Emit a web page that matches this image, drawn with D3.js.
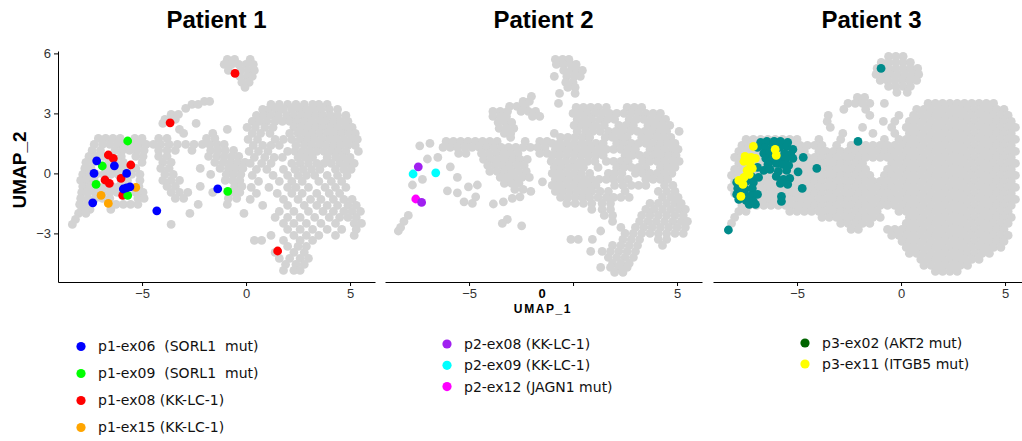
<!DOCTYPE html>
<html>
<head>
<meta charset="utf-8">
<script src="https://cdnjs.cloudflare.com/ajax/libs/d3/7.8.5/d3.min.js"></script>
<style>
body { margin: 0; background: #fff; }
</style>
</head>
<body>
<div id="chart-area"></div>
<script>
// ---- data (UMAP coordinates) ----
var panelTitles = ["Patient 1", "Patient 2", "Patient 3"];
var xTicks = [-5, 0, 5];
var yTicks = [-3, 0, 3, 6];

// grey background cells, stored as rows: [y, [x, x, ...]]
var grey1Rows = [
	[5.7, [-0.9, -0.55, 0.2]],
	[5.45, [-1.05, -0.7, -0.35, 0.0, 0.35]],
	[5.15, [-0.85, -0.25, 0.1, 0.4]],
	[4.85, [-0.3, 0.05, 0.3]],
	[4.55, [-0.2, 0.15]],
	[4.3, [-0.05]],
	[3.6, [-2.0, -1.75]],
	[3.45, [-2.6, -2.3, 1.2, 1.6, 2.0, 2.4, 2.8, 3.2, 3.5, 3.9]],
	[3.25, [-2.9]],
	[3.2, [0.8, 1.1, 1.45, 1.8, 2.2, 2.55, 2.9, 3.25, 3.6, 4.0, 4.4]],
	[2.95, [-3.6, -3.25]],
	[2.9, [0.5, 0.85, 1.2, 1.55, 1.95, 2.3, 2.65, 3.0, 3.35, 3.7, 4.05, 4.4, 4.8]],
	[2.7, [-3.9, -3.4]],
	[2.6, [0.3, 0.65, 1.0, 1.4, 1.75, 2.1, 2.45, 2.8, 3.15, 3.5, 3.85, 4.2, 4.55, 4.9]],
	[2.5, [-4.0, -2.4]],
	[2.3, [0.05, 0.45, 0.9, 1.3, 2.3, 2.65, 3.0, 3.35, 3.7, 4.05, 4.4, 4.75, 5.1]],
	[2.2, [-3.2, -0.9]],
	[2.0, [-3.0, -1.6, 0.3, 0.7, 1.15, 2.1, 2.5, 2.85, 3.2, 3.55, 3.9, 4.25, 4.6, 4.95, 5.25]],
	[1.75, [-7.1, -6.75, -6.4, -6.05, -5.35, -5.0, -4.2, -3.8, -1.9, -1.5]],
	[1.7, [0.1, 0.55, 1.4, 1.8, 2.2, 2.6, 2.95, 3.3, 3.65, 4.0, 4.35, 4.7, 5.05, 5.35]],
	[1.45, [-7.3, -6.9, -6.55, -6.2, -5.85, -5.5, -5.15, -4.8, -4.45, -4.1, -3.7, -3.3, -2.9, -2.5, -2.1, -1.75, -1.4, -1.05]],
	[1.4, [0.35, 0.8, 1.2, 1.6, 2.4, 2.8, 3.15, 3.5, 3.85, 4.2, 4.55, 4.9, 5.25]],
	[1.15, [-7.4, -7.0, -6.3, -5.95, -5.6, -5.25, -4.9, -4.2, -3.8, -3.4, -2.6, -1.7, -1.35, -1.0, -0.6]],
	[1.1, [0.15, 0.6, 1.05, 2.0, 2.35, 2.7, 3.05, 3.4, 3.75, 4.1, 4.45, 4.8, 5.4]],
	[0.85, [-7.55, -7.2, -6.85, -6.0, -5.3, -4.95, -4.2, -3.8, -1.8, -1.4, -1.05, -0.7, -0.35]],
	[0.8, [0.4, 0.9, 1.35, 1.75, 2.5, 2.85, 3.2, 3.9, 4.3, 4.65, 5.0]],
	[0.55, [-7.7, -7.35, -6.6, -6.3, -5.9, -5.0, -4.0, -3.6, -1.5, -1.1, -0.75, -0.4, -0.05]],
	[0.5, [0.2, 0.75, 1.2, 2.2, 2.6, 3.0, 3.4, 3.75, 4.1, 4.5, 4.85, 5.2]],
	[0.25, [-7.75, -7.45, -6.7, -6.35, -6.05, -5.75, -5.3, -4.1, -3.7, -2.2, -1.25, -0.85, -0.5, -0.15]],
	[0.2, [0.5, 1.0, 1.8, 2.35, 2.75, 3.15, 3.55, 4.3, 4.7, 5.05]],
	[-0.05, [-7.85, -7.5, -7.2, -6.85, -6.5, -6.15, -5.5, -5.1, -3.9, -3.5, -1.7, -0.95, -0.6, -0.25]],
	[-0.1, [0.3, 1.3, 2.0, 2.5, 2.9, 3.3, 3.9, 4.4, 4.85]],
	[-0.35, [-7.95, -7.65, -7.3, -6.0, -5.7, -5.1, -4.0, -3.6, -3.2, -1.0, -0.65, -0.3]],
	[-0.4, [0.6, 1.6, 2.2, 2.7, 3.5, 4.1, 4.6]],
	[-0.65, [-7.85, -7.5, -7.15, -6.8, -6.45, -6.1, -5.15, -3.8, -3.4, -2.2, -0.55, -0.2]],
	[-0.7, [0.25, 1.1, 2.0, 2.4, 3.0, 3.8, 4.3, 4.8]],
	[-0.95, [-7.9, -7.6, -7.25, -6.9, -6.55, -6.2, -5.3, -4.95, -3.6, -3.2, -2.8, -1.6, -0.6, -0.3]],
	[-1.0, [0.5, 1.5, 2.2, 2.7, 3.4, 4.0, 4.5]],
	[-1.25, [-7.95, -7.6, -7.25, -6.9, -6.55, -5.2, -4.9, -3.4, -3.0, -0.85, -0.45]],
	[-1.3, [0.2, 1.8, 2.5, 3.1, 3.6, 4.2, 4.7, 5.1]],
	[-1.55, [-8.0, -7.65, -6.25, -5.9, -5.55, -5.2, -2.3, -0.9]],
	[-1.6, [0.8, 2.0, 2.8, 3.4, 3.9, 4.4, 4.9, 5.3]],
	[-1.8, [-7.9, -7.5, -6.5]],
	[-1.9, [1.6, 2.3, 3.0, 3.7, 4.2, 4.7, 5.1, 5.5]],
	[-2.0, [-8.05, -7.7, -2.7, -0.1]],
	[-2.2, [1.4, 2.0, 2.6, 3.3, 4.0, 4.5, 4.9, 5.3]],
	[-2.3, [-8.2]],
	[-2.5, [1.8, 2.3, 2.9, 3.6, 4.3, 5.2, 5.55]],
	[-2.55, [-8.35, -3.6]],
	[-2.8, [2.0, 2.6, 3.2, 3.9, 4.6, 5.3]],
	[-3.1, [1.2, 2.3, 2.9, 3.5, 4.3, 5.2]],
	[-3.35, [0.4, 0.75, 1.8, 2.6, 3.2]],
	[-3.65, [2.0, 2.5, 2.9]],
	[-3.95, [1.4, 2.3, 2.8]],
	[-4.25, [1.6, 2.1, 2.6, 3.0]],
	[-4.55, [1.9, 2.4, 2.8]],
	[-4.85, [1.8, 2.3, 2.6]]
];

var grey2Rows = [
	[5.7, [-0.85, -0.5, -0.2]],
	[5.45, [-0.8, -0.45, -0.1, 0.15]],
	[5.15, [-0.45, -0.1, 0.2, 0.45]],
	[4.85, [-0.9, -0.3, 0.05, 0.35]],
	[4.55, [-0.35, 0.0]],
	[4.3, [-0.25, 0.1]],
	[4.0, [-0.65, 0.1]],
	[3.85, [-2.0]],
	[3.6, [-2.4, -2.1]],
	[3.5, [-0.7]],
	[3.35, [-3.05, -2.7, -2.3]],
	[3.3, [0.15, 0.5, 0.85, 1.2, 1.6, 2.6, 2.95, 3.3]],
	[3.1, [-3.85, -3.5, -3.15, -2.5, -2.15, -1.8]],
	[3.0, [0.0, 0.35, 0.7, 1.05, 1.4, 1.75, 2.1, 2.45, 2.8, 3.15, 3.5, 3.85, 4.2]],
	[2.85, [-3.85, -3.5, -3.2, -1.95, -1.6]],
	[2.7, [0.2, 0.55, 0.9, 1.3, 1.65, 2.0, 2.7, 3.05, 3.4, 3.75, 4.1, 4.45]],
	[2.55, [-3.6, -3.25, -2.95]],
	[2.4, [0.05, 0.4, 0.75, 1.1, 1.5, 2.2, 2.55, 2.9, 3.6, 3.95, 4.3, 4.65]],
	[2.25, [-3.55, -3.2, -2.85]],
	[2.1, [0.2, 0.6, 0.95, 1.3, 1.7, 2.05, 2.4, 2.75, 3.1, 3.45, 3.8, 4.15, 4.5, 5.1]],
	[2.0, [-3.3, -3.0, -0.9]],
	[1.8, [-3.0, -0.6, -0.25, 0.1, 0.45, 0.8, 1.55, 1.9, 2.25, 2.6, 3.3, 3.65, 4.0, 4.35, 4.7]],
	[1.6, [-6.1, -5.75, -5.4, -5.05, -4.7, -4.35, -4.0, -3.65, -2.3, -1.6, -1.25]],
	[1.5, [-6.88, -1.0, -0.65, -0.3, 0.05, 0.4, 0.75, 1.1, 1.45, 2.1, 2.45, 2.8, 3.15, 3.5, 3.85, 4.2, 4.55, 4.9]],
	[1.38, [-7.37]],
	[1.3, [-6.25, -5.9, -5.55, -5.2, -4.85, -4.5, -4.15, -3.8, -3.45, -3.1, -2.75, -2.4, -2.05, -1.7, -1.35]],
	[1.2, [-0.85, -0.5, -0.15, 0.2, 0.55, 0.9, 1.25, 1.6, 1.95, 2.3, 2.65, 3.0, 3.7, 4.05, 4.4, 4.75, 5.05]],
	[1.0, [-5.5, -5.15, -4.4, -4.05, -3.7, -3.35, -3.0, -2.65, -1.6, -1.25]],
	[0.9, [-1.0, -0.65, -0.3, 0.05, 0.4, 0.75, 1.1, 1.45, 2.5, 2.85, 3.2, 3.55, 3.9, 4.25, 4.6, 4.95]],
	[0.8, [-6.5]],
	[0.72, [-7.0]],
	[0.7, [-4.3, -3.95, -3.6, -3.25, -2.9, -2.55, -2.2]],
	[0.6, [-1.05, -0.7, -0.35, 0.0, 0.35, 0.7, 1.05, 1.6, 1.95, 2.3, 2.65, 3.35, 3.7, 4.05, 4.4, 4.75, 5.1]],
	[0.4, [-4.1, -3.75, -3.4, -3.05, -2.7, -2.35]],
	[0.33, [-5.9]],
	[0.3, [-0.9, -0.55, -0.2, 0.15, 0.5, 1.2, 2.1, 2.45, 2.8, 3.15, 3.5, 4.2, 4.55, 4.9]],
	[0.1, [-4.0, -3.65, -3.3, -2.95, -2.6, -2.25]],
	[0.0, [-1.0, -0.65, -0.3, 0.05, 0.4, 0.8, 1.7, 2.0, 2.35, 3.0, 3.35, 3.7, 4.05, 4.4, 4.75]],
	[-0.2, [-5.56, -3.5, -3.15, -2.8, -2.45, -2.1]],
	[-0.3, [-7.24, -0.85, -0.5, -0.15, 0.2, 0.55, 0.9, 1.25, 1.6, 1.95, 2.3, 2.65, 3.5, 3.85, 4.2, 4.55]],
	[-0.42, [-1.47]],
	[-0.5, [-3.3, -2.95, -2.6]],
	[-0.58, [-7.72, -4.6]],
	[-0.6, [-1.0, -0.65, -0.3, 0.05, 0.4, 0.75, 1.1, 2.0, 2.4, 2.8, 3.15, 3.5, 4.4, 4.8]],
	[-0.67, [-5.03]],
	[-0.8, [-2.8, -2.4]],
	[-0.87, [-6.04]],
	[-0.9, [-2.03, -0.85, -0.5, -0.15, 0.2, 0.55, 0.9, 1.3, 1.7, 2.5, 4.1, 4.5, 4.9]],
	[-0.97, [-5.56]],
	[-1.17, [-4.68, -2.55]],
	[-1.2, [-0.6, -0.25, 0.1, 0.45, 0.8, 1.2, 1.6, 1.95, 2.3, 2.7, 4.3, 4.7, 5.05]],
	[-1.25, [-2.92]],
	[-1.42, [-5.24, -3.35]],
	[-1.5, [-4.84, -0.3, 0.1, 0.5, 0.9, 1.4, 1.8, 3.7, 4.1, 4.5, 4.9, 5.2]],
	[-1.53, [-3.83]],
	[-1.8, [0.9, 1.4, 1.8, 3.5, 3.9, 4.3, 4.7, 5.1, 5.4]],
	[-2.1, [-7.92, 1.5, 1.9, 3.3, 3.7, 4.1, 4.5, 4.9, 5.3]],
	[-2.3, [-3.16]],
	[-2.4, [-8.13, 1.9, 3.2, 3.6, 4.0, 4.4, 4.8, 5.2, 5.5]],
	[-2.5, [-3.4]],
	[-2.62, [-2.47]],
	[-2.7, [-8.29, 2.3, 3.0, 3.4, 3.8, 4.2, 4.6, 5.0, 5.4]],
	[-2.88, [-8.4, 1.33]],
	[-3.0, [2.5, 2.9, 3.3, 3.7, 4.1, 4.5, 4.9, 5.3]],
	[-3.3, [-0.1, 0.25, 0.93, 2.4, 2.8, 3.2, 4.1, 4.5]],
	[-3.6, [1.9, 2.3, 2.7, 3.1, 4.3]],
	[-3.9, [0.85, 1.4, 1.8, 2.2, 2.6, 3.0]],
	[-4.2, [1.7, 2.1, 2.5, 2.9]],
	[-4.5, [1.9, 2.3, 2.7]],
	[-4.7, [1.33, 1.8, 2.2, 2.6]],
	[-4.95, [2.0, 2.4]]
];

var grey3Rows = [
	[5.85, [-0.6, -0.25, 0.1]],
	[5.55, [-0.95, -0.6, -0.25, 0.1, 0.45]],
	[5.25, [-1.15, -0.6, -0.25, 0.1, 0.45, 0.8]],
	[4.95, [-1.2, -0.85, -0.5, -0.15, 0.2, 0.55, 0.85]],
	[4.65, [-1.0, -0.65, -0.3, 0.05, 0.4, 0.75]],
	[4.35, [-0.6, -0.25, 0.1, 0.45]],
	[4.05, [-0.2, 0.3]],
	[3.8, [-2.1, -1.75]],
	[3.5, [-2.55, -2.2, -1.85, -1.5, -0.8, 1.3, 1.65, 2.0, 2.35, 2.7, 3.05, 3.4, 3.75, 4.1, 4.45]],
	[3.2, [-2.75, -1.7, 0.75, 1.1, 1.45, 1.8, 2.15, 2.5, 2.85, 3.2, 3.55, 3.9, 4.25, 4.6, 4.95]],
	[2.9, [-3.5, -1.5, -0.1, 0.6, 0.95, 1.3, 1.65, 2.0, 2.35, 2.7, 3.05, 3.4, 3.75, 4.1, 4.45, 4.8, 5.15]],
	[2.6, [-3.55, -0.85, -0.3, 0.4, 0.75, 1.1, 1.45, 1.8, 2.15, 2.5, 2.85, 3.2, 3.55, 3.9, 4.25, 4.6, 4.95, 5.3]],
	[2.3, [-3.4, -1.85, -0.45, 0.25, 0.6, 0.95, 1.3, 1.65, 2.0, 2.35, 2.7, 3.05, 3.4, 3.75, 4.1, 4.45, 4.8, 5.15, 5.5]],
	[2.0, [-2.8, -1.35, -0.3, 0.4, 0.75, 1.1, 1.45, 1.8, 2.15, 2.5, 2.85, 3.2, 3.55, 3.9, 4.25, 4.6, 4.95, 5.3]],
	[1.7, [-7.45, -7.1, -6.75, -6.4, -6.05, -5.7, -5.35, -5.0, -3.95, -2.9, -0.8, -0.1, 0.25, 0.6, 0.95, 1.3, 1.65, 2.0, 2.35, 2.7, 3.05, 3.4, 3.75, 4.1, 4.45, 4.8, 5.15, 5.5]],
	[1.4, [-7.65, -7.3, -6.95, -6.6, -6.25, -5.9, -5.55, -5.2, -4.85, -4.5, -4.15, -3.8, -3.1, -2.4, -2.05, -1.7, -1.35, -1.0, -0.65, -0.3, 0.05, 0.4, 0.75, 1.1, 1.45, 1.8, 2.15, 2.5, 2.85, 3.2, 3.55, 3.9, 4.25, 4.6, 4.95, 5.3]],
	[1.1, [-7.8, -7.45, -7.1, -6.75, -6.4, -6.05, -5.7, -5.35, -5.0, -4.65, -3.95, -3.6, -3.25, -2.9, -2.55, -2.2, -1.85, -1.5, -1.15, -0.8, -0.45, -0.1, 0.25, 0.6, 0.95, 1.3, 1.65, 2.0, 2.35, 2.7, 3.05, 3.4, 3.75, 4.1, 4.45, 4.8, 5.15, 5.5]],
	[0.8, [-8.0, -7.65, -7.3, -6.95, -6.6, -6.25, -5.9, -5.55, -5.2, -4.85, -4.5, -4.15, -3.8, -3.45, -3.1, -2.75, -2.4, -2.05, -1.7, -1.35, -1.0, -0.65, -0.3, 0.05, 0.4, 0.75, 1.1, 1.45, 1.8, 2.15, 2.5, 2.85, 3.2, 3.55, 3.9, 4.25, 4.6, 4.95, 5.3]],
	[0.5, [-7.8, -7.45, -7.1, -6.75, -6.4, -6.05, -5.7, -5.35, -5.0, -4.65, -4.3, -3.95, -3.6, -3.25, -2.9, -2.55, -2.2, -1.85, -0.45, -0.1, 0.25, 0.6, 0.95, 1.3, 1.65, 2.0, 2.35, 2.7, 3.05, 3.4, 3.75, 4.1, 4.45, 4.8, 5.15, 5.5]],
	[0.2, [-8.0, -7.65, -7.3, -6.95, -6.6, -6.25, -5.9, -5.55, -5.2, -4.85, -4.5, -4.15, -3.8, -3.45, -3.1, -2.75, -2.4, -2.05, -1.7, -0.65, -0.3, 0.05, 0.4, 0.75, 1.1, 1.45, 1.8, 2.15, 2.5, 2.85, 3.2, 3.55, 3.9, 4.25, 4.6, 4.95, 5.3]],
	[-0.1, [-8.15, -7.8, -7.45, -7.1, -6.75, -6.4, -6.05, -5.7, -5.35, -5.0, -4.65, -4.3, -3.95, -3.6, -3.25, -2.9, -2.55, -2.2, -1.85, -1.5, -0.8, -0.45, -0.1, 0.25, 0.6, 0.95, 1.3, 1.65, 2.0, 2.35, 2.7, 3.05, 3.4, 3.75, 4.1, 4.45, 4.8, 5.15, 5.5]],
	[-0.4, [-8.0, -7.65, -7.3, -6.95, -6.6, -6.25, -5.9, -5.55, -5.2, -4.85, -4.5, -4.15, -3.8, -3.45, -3.1, -2.75, -2.4, -2.05, -1.7, -1.35, -1.0, -0.65, -0.3, 0.05, 0.4, 0.75, 1.1, 1.45, 1.8, 2.15, 2.5, 2.85, 3.2, 3.55, 3.9, 4.25, 4.6, 4.95, 5.3]],
	[-0.7, [-8.15, -7.8, -7.45, -7.1, -6.75, -6.4, -6.05, -5.7, -5.35, -5.0, -4.65, -4.3, -3.95, -3.6, -3.25, -2.9, -2.55, -2.2, -1.85, -1.5, -1.15, -0.8, -0.45, -0.1, 0.25, 0.6, 0.95, 1.3, 1.65, 2.0, 2.35, 2.7, 3.05, 3.4, 3.75, 4.1, 4.45, 4.8, 5.15, 5.5]],
	[-1.0, [-8.0, -7.65, -7.3, -6.95, -6.6, -6.25, -5.9, -5.55, -5.2, -4.85, -4.5, -4.15, -3.8, -3.45, -3.1, -2.75, -2.4, -2.05, -1.7, -1.35, -1.0, -0.65, -0.3, 0.05, 0.4, 0.75, 1.1, 1.45, 1.8, 2.15, 2.5, 2.85, 3.2, 3.55, 3.9, 4.25, 4.6, 4.95, 5.3]],
	[-1.3, [-7.8, -7.45, -7.1, -6.75, -6.4, -6.05, -5.7, -5.35, -5.0, -4.65, -4.3, -3.95, -3.6, -3.25, -2.9, -2.55, -2.2, -1.85, -1.5, -1.15, -0.8, -0.45, -0.1, 0.25, 0.6, 0.95, 1.3, 1.65, 2.0, 2.35, 2.7, 3.05, 3.4, 3.75, 4.1, 4.45, 4.8, 5.15, 5.5]],
	[-1.6, [-7.65, -7.3, -6.95, -6.6, -6.25, -5.9, -5.55, -5.2, -4.85, -4.5, -4.15, -3.8, -3.45, -3.1, -2.75, -2.4, -2.05, -1.7, -1.35, -1.0, -0.65, -0.3, 0.05, 0.4, 0.75, 1.1, 1.45, 1.8, 2.15, 2.5, 2.85, 3.2, 3.55, 3.9, 4.25, 4.6, 4.95, 5.3]],
	[-1.9, [-7.8, -7.45, -5.35, -5.0, -4.65, -4.3, -3.95, -3.6, -3.25, -2.9, -2.55, -2.2, -1.85, -1.5, -1.15, -0.1, 0.25, 0.6, 0.95, 1.3, 1.65, 2.0, 2.35, 2.7, 3.05, 3.4, 3.75, 4.1, 4.45, 4.8, 5.15]],
	[-2.2, [-8.0, -3.8, -3.45, -3.1, -2.75, -2.4, -2.05, -1.7, -1.35, -1.0, 0.4, 0.75, 1.1, 1.45, 1.8, 2.15, 2.5, 2.85, 3.2, 3.55, 3.9, 4.25, 4.6, 4.95, 5.3]],
	[-2.5, [-8.15, -2.9, -2.55, -2.2, -1.85, -1.5, 0.25, 0.6, 0.95, 1.3, 1.65, 2.0, 2.35, 2.7, 3.05, 3.4, 3.75, 4.1, 4.45, 4.8, 5.15]],
	[-2.8, [-2.4, -2.05, -0.65, -0.3, 0.05, 0.4, 0.75, 1.1, 1.45, 1.8, 2.15, 2.5, 2.85, 3.2, 3.55, 3.9, 4.25, 4.6, 4.95]],
	[-3.1, [-0.45, -0.1, 0.25, 0.6, 0.95, 1.3, 1.65, 2.0, 2.35, 2.7, 3.05, 3.4, 3.75, 4.1, 4.45, 4.8, 5.15]],
	[-3.4, [0.05, 0.4, 0.75, 1.1, 1.45, 1.8, 2.15, 2.5, 2.85, 3.2, 3.55, 3.9, 4.25, 4.6, 4.95]],
	[-3.7, [0.25, 0.6, 0.95, 1.3, 1.65, 2.0, 2.35, 2.7, 3.05, 3.4, 3.75, 4.1, 4.45, 4.8]],
	[-4.0, [0.4, 0.75, 1.1, 1.45, 1.8, 2.15, 2.5, 2.85, 3.2, 3.55, 3.9, 4.25]],
	[-4.3, [0.95, 1.3, 1.65, 2.0, 2.35, 2.7, 3.05, 3.4, 3.75]],
	[-4.6, [1.1, 1.45, 1.8, 2.15, 2.5, 2.85, 3.2]],
	[-4.9, [1.65, 2.0, 2.35, 2.7]]
];

// highlighted cells per sample: [x, y]
var p1ex06 = [[-7.18, 0.63], [-7.31, 0.0], [-6.33, 0.38], [-5.74, 0.0], [-5.9, -0.78], [-5.75, -0.72], [-5.58, -0.67], [-7.37, -1.47], [-4.29, -1.87], [-1.36, -0.77]];
var p1ex09 = [[-5.69, 1.62], [-6.91, 0.37], [-7.21, -0.55], [-5.69, -1.1], [-0.88, -0.9]];
var p1ex08 = [[-0.53, 5.0], [-3.65, 2.53], [-6.62, 0.92], [-6.38, 0.75], [-5.54, 0.42], [-6.78, -0.33], [-6.57, -0.5], [-6.01, -0.25], [-5.93, -1.1], [1.52, -3.88]];
var p1ex15 = [[-6.97, -1.1], [-6.62, -1.5], [-5.3, -0.7]];

var p2ex08 = [[-7.44, 0.33], [-7.28, -1.45]];
var p2ex09 = [[-7.69, -0.03], [-6.6, 0.03]];
var p2ex12 = [[-7.56, -1.28]];

var p3ex02 = [
	[-0.96, 5.25], [-2.07, 1.6], [-8.3, -2.83],
	[-6.75, 1.55], [-6.45, 1.6], [-6.1, 1.6], [-5.8, 1.6], [-5.45, 1.55],
	[-6.9, 1.3], [-6.55, 1.3], [-6.2, 1.3], [-5.85, 1.3], [-5.5, 1.35], [-5.2, 1.2],
	[-6.6, 1.0], [-6.3, 1.05], [-5.6, 1.0], [-5.3, 0.95],
	[-6.5, 0.75], [-6.2, 0.7], [-5.85, 0.75], [-5.55, 0.7], [-5.2, 0.75], [-4.7, 0.8],
	[-6.4, 0.45], [-6.0, 0.5], [-5.7, 0.45], [-5.4, 0.4],
	[-6.9, 0.3], [-6.6, 0.15], [-6.3, 0.2], [-5.9, 0.1], [-5.5, 0.15], [-4.05, 0.25], [-4.95, 0.08],
	[-7.2, -0.15], [-6.85, -0.2], [-6.0, -0.15], [-5.65, -0.3], [-5.35, -0.25],
	[-7.9, -0.45], [-7.45, -0.4], [-7.1, -0.45], [-5.8, -0.5], [-5.45, -0.55],
	[-7.85, -0.75], [-7.5, -0.8], [-7.15, -0.75], [-4.75, -0.75],
	[-7.9, -1.05], [-7.55, -1.05], [-7.2, -1.1], [-6.9, -1.05], [-5.75, -1.15],
	[-7.8, -1.3], [-7.45, -1.35], [-7.1, -1.4], [-5.75, -1.4],
	[-7.3, -1.55], [-7.0, -1.55]
];
var p3ex11 = [[-7.1, 1.35], [-7.5, 0.85], [-7.2, 0.8], [-7.0, 0.75], [-7.55, 0.6], [-7.25, 0.5], [-7.15, 0.25], [-7.4, 0.15], [-7.3, -0.05], [-7.55, -0.2], [-7.8, -0.35], [-7.6, -0.55], [-7.7, -1.15], [-6.05, 1.2], [-6.0, 0.9]];

// legends
var legend1Labels = ["p1-ex06 (SORL1 mut)", "p1-ex09 (SORL1 mut)", "p1-ex08 (KK-LC-1)", "p1-ex15 (KK-LC-1)"];
var legend1Colors = ["#0000ff", "#00ff00", "#ff0000", "#ffa500"];
var legend2Labels = ["p2-ex08 (KK-LC-1)", "p2-ex09 (KK-LC-1)", "p2-ex12 (JAGN1 mut)"];
var legend2Colors = ["#a020f0", "#00ffff", "#ff00ff"];
var legend3Labels = ["p3-ex02 (AKT2 mut)", "p3-ex11 (ITGB5 mut)"];
var legend3Colors = ["#006400", "#ffff00"];

// ---- layout ----
var width = 1022, height = 441;
var panelLeft = [58, 385, 713];
var panelW = 317;
var plotTop = 51, plotBottom = 282;
var dotR = 4.4;
var grey = "#d3d3d3";

var svg = d3.select("#chart-area")
	.append("svg")
		.attr("width", width)
		.attr("height", height)
		.style("font-family", "'Liberation Sans', Arial, sans-serif");

var x = d3.scaleLinear()
	.domain([-9.04, 6.2])
	.range([0, panelW]);

var y = d3.scaleLinear()
	.domain([-5.43, 6.12])
	.range([plotBottom, plotTop]);

function rowsToPoints(rows) {
	var pts = [];
	rows.forEach(function(r){
		r[1].forEach(function(v){ pts.push([v, r[0]]); });
	});
	return pts;
}

var panels = [
	{ grey: grey1Rows, groups: [[p1ex15, "#ffa500"], [p1ex08, "#ff0000"], [p1ex09, "#00ff00"], [p1ex06, "#0000ff"]],
	  labels: legend1Labels, colors: legend1Colors, lx: 23, ly: 346.5, step: 27 },
	{ grey: grey2Rows, groups: [[p2ex12, "#ff00ff"], [p2ex09, "#00ffff"], [p2ex08, "#a020f0"]],
	  labels: legend2Labels, colors: legend2Colors, lx: 62, ly: 344, step: 21.3 },
	{ grey: grey3Rows, groups: [[p3ex02, "#008b8b"], [p3ex11, "#ffff00"]],
	  labels: legend3Labels, colors: legend3Colors, lx: 92, ly: 343, step: 21 }
];

panels.forEach(function(p, i){
	var g = svg.append("g")
		.attr("transform", "translate(" + panelLeft[i] + ",0)");

	//title
	g.append("text")
		.attr("x", panelW / 2)
		.attr("y", 28)
		.attr("text-anchor", "middle")
		.attr("font-size", "24px")
		.attr("font-weight", "bold")
		.attr("fill", "#000")
		.text(panelTitles[i]);

	//grey cells
	g.append("g").selectAll("circle")
		.data(rowsToPoints(p.grey))
		.enter().append("circle")
			.attr("cx", function(d){ return x(d[0]); })
			.attr("cy", function(d){ return y(d[1]); })
			.attr("r", dotR)
			.attr("fill", grey);

	//highlighted cells
	p.groups.forEach(function(grp){
		g.append("g").selectAll("circle")
			.data(grp[0])
			.enter().append("circle")
				.attr("cx", function(d){ return x(d[0]); })
				.attr("cy", function(d){ return y(d[1]); })
				.attr("r", dotR)
				.attr("fill", grp[1]);
	});

	//x axis
	var xAxisCall = d3.axisBottom(x)
		.tickValues(xTicks)
		.tickSize(4)
		.tickSizeOuter(0);
	if (i == 1) {
		xAxisCall.tickFormat(function(d){ return d == 0 ? "" : d3.format("")(d); });
	}
	var xa = g.append("g")
		.attr("class", "x axis")
		.attr("transform", "translate(0," + plotBottom + ")")
		.call(xAxisCall);
	xa.selectAll("text").attr("font-size", "13px").attr("fill", "#333")
		.attr("font-family", "'Liberation Sans', Arial, sans-serif");

	//y axis (first panel only)
	if (i == 0) {
		var ya = g.append("g")
			.attr("class", "y axis")
			.call(d3.axisLeft(y).tickValues(yTicks).tickSize(4).tickSizeOuter(0));
		ya.selectAll("text").attr("font-size", "13px").attr("fill", "#333")
			.attr("font-family", "'Liberation Sans', Arial, sans-serif");
	}

	//legend
	var legend = g.append("g");
	p.labels.forEach(function(lab, j){
		var row = legend.append("g")
			.attr("transform", "translate(" + p.lx + "," + (p.ly + j * p.step) + ")");
		row.append("circle")
			.attr("r", 4.6)
			.attr("fill", p.colors[j]);
		row.append("text")
			.attr("x", 17)
			.attr("y", 0)
			.attr("dy", "0.35em")
			.attr("font-family", "'DejaVu Sans', sans-serif")
			.attr("font-size", "14px")
			.attr("fill", "#111")
			.style("word-spacing", (i == 0 && j < 2) ? "4.5px" : "0px")
			.text(lab);
	});
});

//axis titles
svg.append("text")
	.attr("transform", "translate(26,170) rotate(-90)")
	.attr("text-anchor", "middle")
	.attr("font-size", "19px")
	.attr("font-weight", "bold")
	.text("UMAP_2");

svg.append("text")
	.attr("x", 542)
	.attr("y", 298)
	.attr("text-anchor", "middle")
	.attr("font-size", "13px")
	.attr("font-weight", "bold")
	.text("0");

svg.append("text")
	.attr("x", 543)
	.attr("y", 313)
	.attr("text-anchor", "middle")
	.attr("font-size", "12px")
	.attr("font-weight", "bold")
	.attr("letter-spacing", "1.6px")
	.text("UMAP_1");
</script>
</body>
</html>
